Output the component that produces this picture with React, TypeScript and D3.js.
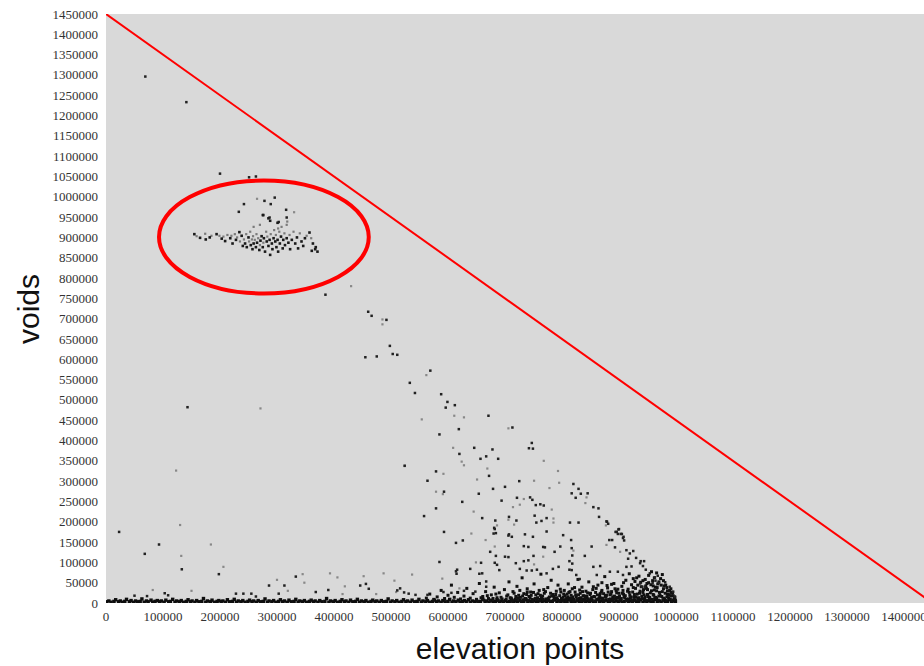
import React from "react";
import * as d3 from "d3";

// All values are in thousands (k) of the original units.
const yTickValues = [0, 50, 100, 150, 200, 250, 300, 350, 400, 450, 500, 550, 600, 650, 700, 750, 800, 850, 900, 950, 1000, 1050, 1100, 1150, 1200, 1250, 1300, 1350, 1400, 1450];
const yTickLabels = ["0", "50000", "100000", "150000", "200000", "250000", "300000", "350000", "400000", "450000", "500000", "550000", "600000", "650000", "700000", "750000", "800000", "850000", "900000", "950000", "1000000", "1050000", "1100000", "1150000", "1200000", "1250000", "1300000", "1350000", "1400000", "1450000"];
const xTickValues = [0, 100, 200, 300, 400, 500, 600, 700, 800, 900, 1000, 1100, 1200, 1300, 1400];
const xTickLabels = ["0", "100000", "200000", "300000", "400000", "500000", "600000", "700000", "800000", "900000", "1000000", "1100000", "1200000", "1300000", "1400000"];

// reference line: voids + elevation points = 1450000
const refLine = [[0, 1450], [1450, 0]];
// highlighted cluster ellipse: center and radii (k)
const ellipseCenter = [277, 901];
const ellipseRadii = [184, 139];

const upperPoints = [[69, 1296], [141, 1233], [200, 1057], [251, 1048], [263, 1050], [296, 998], [233, 963], [242, 982], [278, 990], [289, 982], [316, 968], [275, 955], [287, 949], [303, 938], [317, 949]];
const upperFaint = [[265, 995], [330, 962]];

const clusterDark = [[155, 908], [165, 899], [175, 895], [182, 900], [194, 908], [203, 897], [209, 891], [218, 898], [222, 885], [228, 894], [234, 913], [238, 904], [240, 879], [244, 885], [247, 876], [250, 900], [254, 881], [257, 871], [259, 885], [263, 876], [265, 887], [269, 869], [271, 892], [273, 903], [275, 876], [277, 898], [279, 865], [282, 890], [285, 879], [287, 894], [288, 857], [291, 885], [292, 871], [294, 898], [297, 890], [299, 876], [301, 894], [302, 865], [305, 885], [307, 902], [310, 873], [311, 894], [314, 881], [317, 898], [320, 887], [323, 871], [326, 894], [332, 885], [335, 900], [337, 873], [343, 890], [346, 879], [349, 898], [357, 912], [363, 885], [367, 871], [368, 876], [371, 865], [361, 867], [301, 936], [285, 947], [276, 955], [288, 941]];
const clusterFaint = [[159, 903], [174, 909], [185, 904], [199, 904], [206, 902], [213, 906], [220, 904], [226, 908], [230, 900], [235, 890], [242, 895], [246, 908], [251, 890], [253, 914], [256, 895], [258, 903], [261, 894], [264, 908], [267, 898], [270, 881], [276, 887], [281, 914], [283, 902], [289, 908], [295, 918], [298, 906], [304, 914], [308, 926], [313, 910], [318, 939], [322, 906], [329, 914], [340, 910], [352, 904], [360, 898], [317, 931], [270, 931], [302, 922], [259, 926]];

const midDark = [[385, 759], [460, 717], [466, 707], [492, 697], [498, 633], [503, 613], [511, 611], [455, 605], [475, 607], [143, 482], [524, 338], [569, 572], [533, 542], [542, 517], [588, 514], [599, 495], [612, 487], [596, 481], [671, 461], [713, 432], [619, 428], [585, 415], [646, 382], [620, 367], [678, 378], [657, 355], [688, 355], [667, 361], [742, 381], [749, 380], [747, 394], [579, 324], [564, 301], [672, 313], [725, 300], [820, 293], [679, 281], [700, 286], [593, 274], [654, 269], [817, 270], [829, 281], [833, 269], [845, 270], [824, 259], [721, 259], [744, 260], [748, 254], [694, 252], [625, 249], [754, 241], [762, 243], [768, 240], [855, 236], [864, 233], [579, 233], [558, 214], [752, 215], [660, 209], [683, 203], [707, 212], [720, 203], [773, 209], [865, 212], [879, 200], [755, 198], [764, 202], [814, 198], [829, 198], [681, 185], [680, 171], [593, 175], [900, 182], [896, 175], [898, 170], [905, 170], [908, 163], [773, 176], [735, 169], [707, 169], [712, 163], [802, 167], [749, 163]];
const midFaint = [[430, 780], [485, 698], [485, 686], [271, 479], [123, 326], [562, 561], [554, 452], [611, 461], [628, 457], [706, 430], [609, 382], [624, 348], [628, 339], [768, 350], [524, 337], [592, 318], [669, 331], [651, 304], [751, 301], [793, 325], [795, 296], [778, 283], [579, 274], [591, 268], [843, 260], [733, 256], [841, 246], [714, 236], [726, 242], [645, 225], [782, 230], [706, 205], [785, 208], [785, 198], [686, 191], [716, 193], [877, 191]];

const lowDark = [[23, 175], [93, 144], [68, 121], [133, 83], [198, 71], [103, 24], [109, 19], [50, 18], [72, 17], [286, 43], [313, 43], [333, 65], [303, 23], [368, 27], [390, 32], [446, 43], [456, 47], [461, 35], [516, 36], [228, 23], [241, 23], [255, 23], [263, 16], [614, 148], [626, 154], [585, 101], [614, 78], [615, 72], [616, 82], [639, 84], [658, 99], [674, 126], [684, 116], [682, 99], [686, 94], [700, 114], [706, 113], [706, 141], [733, 140], [741, 138], [706, 166], [682, 182], [684, 172], [767, 138], [770, 137], [750, 116], [787, 126], [797, 139], [817, 135], [818, 117], [813, 103], [818, 97], [719, 98], [733, 103], [741, 105], [690, 81], [726, 84], [738, 80], [747, 80], [756, 82], [773, 73], [784, 84], [794, 89], [813, 82], [655, 72], [660, 73], [667, 53], [667, 40], [648, 28], [628, 30], [606, 25], [592, 27], [564, 20], [543, 20], [531, 23], [523, 26], [511, 31], [816, 155], [852, 139], [893, 137], [913, 130], [919, 122], [925, 128], [840, 116], [867, 91], [855, 89], [916, 109], [930, 111], [938, 103], [944, 103], [937, 98], [942, 91], [947, 82], [913, 89], [922, 90], [884, 77], [898, 77], [907, 69], [817, 81], [825, 69], [831, 59], [861, 69], [954, 73], [963, 63], [968, 67], [964, 55], [959, 49], [970, 49], [981, 51], [937, 48], [940, 40], [945, 40], [989, 40], [995, 28], [998, 16], [883, 155], [888, 155], [878, 201], [881, 195], [899, 181], [894, 175], [903, 170], [907, 160], [909, 154]];
const lowFaint = [[130, 192], [132, 116], [184, 144], [206, 89], [82, 32], [150, 30], [300, 57], [345, 71], [348, 50], [319, 30], [393, 73], [406, 63], [419, 41], [415, 22], [452, 66], [474, 22], [487, 73], [506, 55], [509, 27], [641, 171], [537, 70], [590, 60], [649, 100], [666, 155], [682, 139], [767, 114], [751, 95], [620, 36], [878, 143], [902, 126], [820, 129]];

const floorPoints = [[1, 3], [5, 5], [9, 2], [14, 4], [17, 8], [22, 3], [25, 5], [29, 2], [33, 4], [36, 9], [41, 3], [44, 6], [48, 2], [52, 5], [55, 3], [60, 4], [63, 10], [67, 2], [71, 5], [74, 3], [79, 7], [82, 2], [86, 4], [90, 6], [94, 3], [97, 5], [102, 2], [105, 7], [110, 3], [113, 4], [117, 9], [121, 2], [124, 5], [129, 3], [132, 6], [136, 2], [141, 4], [144, 8], [148, 3], [151, 5], [156, 2], [159, 6], [163, 3], [168, 4], [171, 11], [175, 2], [178, 5], [183, 3], [186, 7], [190, 2], [195, 4], [198, 6], [202, 3], [205, 5], [210, 2], [213, 8], [217, 3], [222, 4], [225, 9], [229, 2], [232, 5], [237, 3], [240, 6], [244, 2], [249, 4], [252, 7], [256, 3], [259, 5], [264, 2], [267, 6], [271, 3], [276, 4], [279, 10], [283, 2], [286, 5], [291, 3], [294, 6], [298, 2], [303, 4], [306, 8], [310, 3], [313, 5], [318, 2], [321, 7], [325, 3], [330, 4], [333, 9], [337, 2], [340, 5], [345, 3], [348, 6], [352, 2], [357, 4], [360, 7], [364, 3], [367, 5], [372, 2], [375, 6], [379, 3], [384, 4], [387, 11], [391, 2], [394, 5], [399, 3], [402, 6], [406, 2], [411, 4], [414, 8], [418, 3], [421, 5], [426, 2], [429, 7], [433, 3], [438, 4], [441, 9], [445, 2], [448, 5], [453, 3], [456, 6], [460, 2], [465, 4], [468, 7], [472, 3], [475, 5], [480, 2], [483, 6], [487, 3], [492, 4], [495, 10], [499, 2], [502, 5], [507, 3], [510, 6], [514, 2], [519, 4], [522, 8], [526, 3], [529, 5], [534, 2], [537, 7], [541, 3], [546, 4], [549, 9], [553, 2], [556, 5], [561, 3], [564, 6], [568, 2], [573, 4], [576, 7], [580, 3], [583, 5], [588, 2], [591, 6], [595, 3], [600, 4], [603, 9], [607, 2], [610, 5], [614, 3], [618, 7], [621, 2], [625, 4], [629, 6], [632, 3], [636, 8], [639, 2], [643, 5], [647, 3], [650, 6], [654, 2], [657, 4], [661, 9], [665, 3], [668, 5], [672, 2], [675, 7], [679, 3], [683, 4], [686, 8], [690, 2], [693, 5], [697, 3], [701, 6], [704, 2], [708, 4], [711, 9], [715, 3], [719, 5], [722, 2], [726, 7], [729, 3], [733, 4], [737, 8], [740, 2], [744, 5], [747, 3], [751, 6], [755, 2], [758, 4], [762, 9], [765, 3], [769, 5], [773, 2], [776, 7], [780, 3], [783, 4], [787, 8], [791, 2], [794, 5], [798, 3], [801, 6], [805, 2], [809, 4], [812, 9], [816, 3], [819, 5], [823, 2], [827, 7], [830, 3], [834, 4], [837, 8], [841, 2], [845, 5], [848, 3], [852, 6], [855, 2], [859, 4], [863, 9], [866, 3], [870, 5], [873, 2], [877, 7], [881, 3], [884, 4], [888, 8], [891, 2], [895, 5], [899, 3], [902, 6], [906, 2], [909, 4], [913, 9], [917, 3], [920, 5], [924, 2], [927, 7], [931, 3], [935, 4], [938, 8], [942, 2], [945, 5], [949, 3], [953, 6], [956, 2], [960, 4], [963, 9], [967, 3], [971, 5], [974, 2], [978, 7], [981, 3], [985, 4], [989, 8], [992, 2], [996, 5], [999, 3]];

const massPoints = [[562, 12], [568, 22], [575, 9], [581, 15], [588, 31], [594, 11], [600, 19], [606, 44], [611, 14], [617, 26], [622, 10], [628, 17], [633, 36], [639, 12], [644, 23], [650, 9], [655, 48], [661, 16], [666, 28], [671, 11], [676, 20], [681, 39], [686, 13], [690, 25], [695, 10], [699, 33], [703, 17], [707, 52], [711, 12], [714, 28], [718, 9], [721, 41], [724, 19], [727, 14], [730, 62], [733, 23], [736, 11], [739, 35], [742, 16], [745, 27], [748, 9], [751, 47], [754, 20], [757, 13], [760, 31], [763, 71], [766, 17], [769, 24], [772, 10], [775, 38], [778, 15], [781, 56], [784, 21], [787, 12], [790, 29], [793, 44], [796, 18], [799, 11], [713, 7], [719, 16], [726, 31], [732, 8], [738, 21], [744, 13], [750, 26], [756, 8], [762, 19], [768, 33], [774, 7], [780, 24], [786, 16], [792, 9], [798, 27], [802, 14], [804, 31], [806, 8], [809, 22], [811, 47], [813, 12], [816, 19], [818, 35], [821, 9], [823, 27], [825, 15], [828, 58], [830, 11], [832, 24], [835, 39], [837, 17], [840, 8], [842, 29], [844, 13], [847, 52], [849, 21], [851, 10], [854, 33], [856, 16], [859, 26], [861, 9], [863, 44], [866, 18], [868, 12], [870, 31], [873, 23], [875, 65], [877, 14], [880, 37], [882, 9], [884, 20], [887, 28], [889, 15], [891, 48], [894, 11], [896, 25], [898, 34], [901, 17], [903, 8], [905, 41], [908, 22], [910, 13], [912, 56], [915, 29], [917, 10], [919, 19], [922, 45], [924, 27], [926, 14], [929, 36], [931, 62], [933, 11], [936, 24], [938, 51], [940, 17], [943, 33], [945, 9], [947, 42], [950, 21], [952, 68], [954, 14], [957, 30], [959, 55], [961, 19], [964, 39], [966, 11], [968, 47], [971, 26], [973, 60], [975, 16], [978, 35], [980, 9], [982, 44], [985, 22], [987, 13], [989, 31], [992, 18], [994, 25], [996, 8], [998, 14], [801, 5], [805, 18], [808, 11], [812, 26], [815, 7], [819, 15], [822, 38], [826, 6], [829, 20], [833, 13], [836, 28], [839, 5], [843, 17], [846, 10], [850, 24], [853, 6], [857, 15], [860, 36], [864, 8], [867, 23], [871, 12], [874, 5], [878, 19], [881, 27], [885, 10], [888, 6], [892, 17], [895, 30], [899, 12], [902, 5], [906, 24], [909, 16], [913, 7], [916, 34], [920, 12], [923, 6], [927, 21], [930, 15], [934, 8], [937, 29], [941, 11], [944, 20], [948, 6], [951, 16], [955, 25], [958, 9], [962, 32], [965, 14], [969, 7], [972, 19], [976, 28], [979, 12], [983, 6], [986, 20], [990, 10], [993, 5], [997, 11], [918, 72], [935, 66], [946, 58], [957, 77], [962, 62], [970, 52], [976, 70], [984, 38], [991, 26], [966, 74], [949, 48], [928, 53]];

const massLowPoints = [[652, 4], [658, 13], [663, 7], [669, 18], [674, 5], [679, 11], [684, 22], [688, 6], [693, 14], [697, 4], [702, 9], [705, 20], [709, 13], [712, 4], [716, 24], [720, 8], [723, 12], [728, 5], [731, 17], [735, 9], [739, 27], [741, 6], [746, 19], [749, 4], [753, 11], [758, 23], [761, 6], [764, 14], [767, 9], [771, 28], [776, 12], [779, 5], [782, 17], [785, 7], [789, 21], [791, 13], [795, 6], [797, 34], [800, 9], [803, 22], [807, 4], [810, 15], [814, 28], [817, 11], [820, 4], [824, 20], [827, 9], [831, 32], [834, 6], [838, 18], [841, 12], [845, 25], [848, 7], [852, 14], [855, 40], [858, 5], [862, 20], [865, 11], [869, 27], [872, 7], [876, 16], [879, 43], [883, 6], [886, 22], [890, 9], [893, 35], [897, 14], [900, 24], [904, 11], [907, 31], [911, 18], [914, 5], [918, 26], [921, 15], [925, 38], [928, 7], [932, 22], [935, 13], [939, 40], [942, 26], [946, 15], [950, 33], [953, 9], [956, 45], [960, 21], [963, 13], [967, 38], [970, 17], [974, 44], [977, 8], [981, 24], [984, 15], [988, 20], [991, 35], [995, 18], [999, 7], [942, 55], [952, 50], [960, 42], [978, 55], [925, 60], [908, 50], [887, 46], [870, 50], [948, 36], [933, 44], [966, 30], [979, 42], [985, 30]];

const W = 924;
const H = 666;
const plot = { left: 106, right: 924, top: 14, bottom: 603 };

export default function App() {
  const x = d3.scaleLinear().domain([0, 1000]).range([106, 676]);
  const y = d3.scaleLinear().domain([0, 1450]).range([plot.bottom, plot.top]);
  const line = d3.line<number[]>().x((d) => x(d[0])).y((d) => y(d[1]));

  const dot = (pts: number[][], key: string, fill: string, s: number) =>
    pts.map((d, i) => (
      <rect key={key + i} x={x(d[0]) - s / 2} y={y(d[1]) - s / 2} width={s} height={s} fill={fill} />
    ));

  const ecx = x(ellipseCenter[0]);
  const ecy = y(ellipseCenter[1]);
  const erx = x(ellipseCenter[0] + ellipseRadii[0]) - ecx;
  const ery = ecy - y(ellipseCenter[1] + ellipseRadii[1]);

  return (
    <svg width={W} height={H} style={{ position: "absolute", left: 0, top: 0, display: "block", background: "#fff" }}>
      <defs>
        <clipPath id="plotClip">
          <rect x={plot.left} y={plot.top} width={plot.right - plot.left} height={plot.bottom - plot.top} />
        </clipPath>
      </defs>
      <rect x={plot.left} y={plot.top} width={plot.right - plot.left} height={plot.bottom - plot.top} fill="#d9d9d9" />
      <g clipPath="url(#plotClip)">
        {dot(floorPoints, "f", "#0d0d0d", 3.4)}
        {dot(massPoints, "m", "#111", 3)}
        {dot(massLowPoints, "ml", "#111", 3)}
        {dot(upperFaint, "uf", "#8a8a8a", 2.2)}
        {dot(clusterFaint, "cf", "#7a7a7a", 2.2)}
        {dot(midFaint, "mf", "#888", 2.2)}
        {dot(lowFaint, "lf", "#888", 2.2)}
        {dot(upperPoints, "u", "#222", 2.5)}
        {dot(clusterDark, "c", "#1a1a1a", 2.6)}
        {dot(midDark, "md", "#222", 2.5)}
        {dot(lowDark, "ld", "#222", 2.5)}
        <path d={line(refLine) || ""} stroke="#ff0000" strokeWidth={2} fill="none" />
        <ellipse cx={ecx} cy={ecy} rx={erx} ry={ery} stroke="#ff0000" strokeWidth={4} fill="none" />
      </g>
      <g fontFamily="'Liberation Serif', 'Times New Roman', serif" fontSize={13} fill="#333">
        {yTickValues.map((v, i) => (
          <text key={"yt" + i} x={98} y={y(v)} dy="0.35em" textAnchor="end">{yTickLabels[i]}</text>
        ))}
        {xTickValues.map((v, i) => (
          <text key={"xt" + i} x={x(v)} y={621} textAnchor="middle">{xTickLabels[i]}</text>
        ))}
      </g>
      <text x={520} y={659} textAnchor="middle" fontFamily="'Liberation Sans', Arial, sans-serif" fontSize={30} fill="#111">elevation points</text>
      <text transform="translate(39,309) rotate(-90)" textAnchor="middle" fontFamily="'Liberation Sans', Arial, sans-serif" fontSize={30} fill="#111">voids</text>
    </svg>
  );
}
